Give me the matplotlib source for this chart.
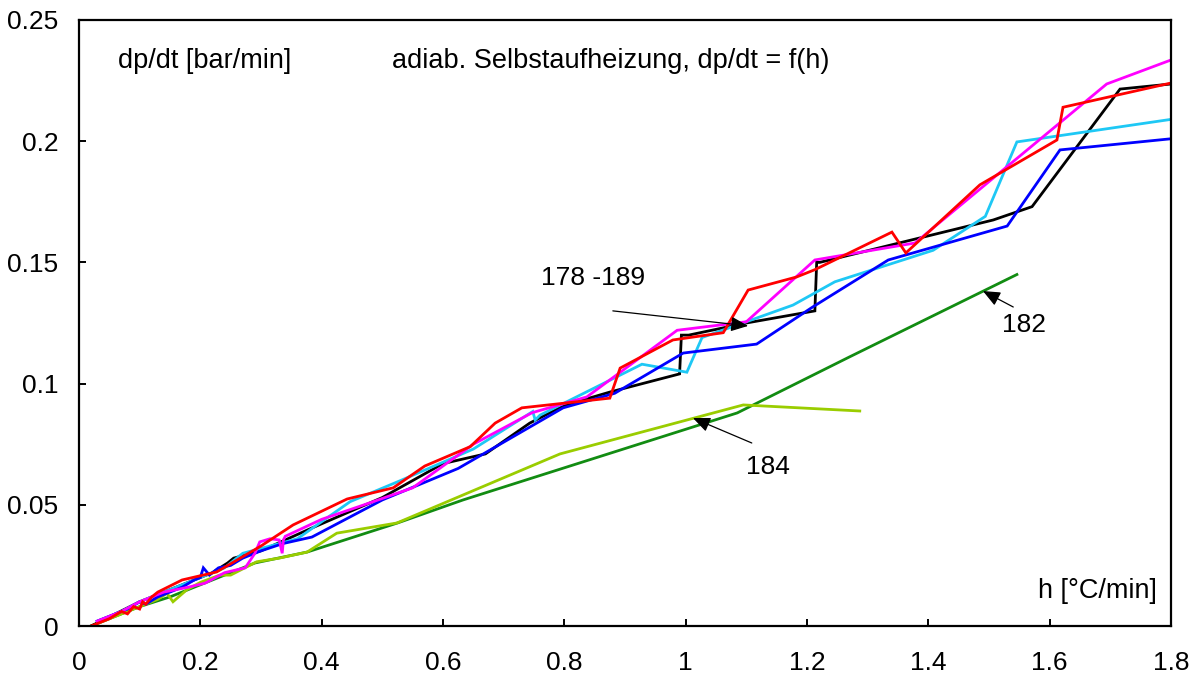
"""Adiabatic self-heating: dp/dt as a function of heating rate h."""

import matplotlib

matplotlib.use("Agg")
import matplotlib.pyplot as plt
from matplotlib.ticker import FormatStrFormatter, MultipleLocator

plt.rcParams["font.family"] = ["Liberation Sans", "DejaVu Sans"]

# Heating rate h [degC/min] and pressure rise dp/dt [bar/min].
dgreen_h = [0.02, 0.06, 0.1, 0.15, 0.2, 0.25, 0.29, 0.376, 0.525, 0.633, 1.085, 1.27, 1.546]
dgreen_v = [0.0, 0.004, 0.008, 0.012, 0.017, 0.022, 0.026, 0.0305, 0.0425, 0.052, 0.0879,
            0.111, 0.145]

ygreen_h = [0.02, 0.06, 0.1, 0.13, 0.145, 0.155, 0.178, 0.2, 0.232, 0.25, 0.293, 0.33,
            0.376, 0.425, 0.524, 0.793, 1.095, 1.287]
ygreen_v = [0.0, 0.004, 0.008, 0.011, 0.0135, 0.010, 0.015, 0.018, 0.021, 0.021, 0.0265,
            0.028, 0.0305, 0.0383, 0.0425, 0.071, 0.0912, 0.0887]

black_h = [0.02, 0.06, 0.1, 0.14, 0.18, 0.22, 0.245, 0.255, 0.3, 0.38, 0.5, 0.6, 0.67,
           0.743, 0.8, 0.875, 0.99, 0.993, 1.005, 1.1, 1.213, 1.216, 1.221, 1.507, 1.571,
           1.716, 1.8]
black_v = [0.0, 0.005, 0.010, 0.014, 0.018, 0.022, 0.026, 0.028, 0.031, 0.040, 0.053,
           0.067, 0.071, 0.0837, 0.091, 0.0965, 0.104, 0.120, 0.120, 0.125, 0.130, 0.150,
           0.150, 0.1675, 0.173, 0.2215, 0.2236]

cyan_h = [0.03, 0.07, 0.1, 0.13, 0.17, 0.2, 0.24, 0.27, 0.3, 0.36, 0.447, 0.53, 0.65,
          0.748, 0.752, 0.76, 0.928, 1.002, 1.027, 1.177, 1.246, 1.408, 1.494, 1.546, 1.8]
cyan_v = [0.002, 0.006, 0.010, 0.013, 0.017, 0.020, 0.024, 0.030, 0.032, 0.036, 0.0513,
          0.060, 0.073, 0.0885, 0.085, 0.087, 0.108, 0.1047, 0.119, 0.1324, 0.142, 0.155,
          0.169, 0.1997, 0.209]

blue_h = [0.03, 0.06, 0.08, 0.1, 0.11, 0.13, 0.15, 0.17, 0.19, 0.2, 0.205, 0.215, 0.23,
          0.25, 0.27, 0.3, 0.336, 0.384, 0.5, 0.625, 0.798, 0.883, 0.996, 1.117, 1.21,
          1.334, 1.53, 1.617, 1.8]
blue_v = [0.002, 0.005, 0.007, 0.010, 0.009, 0.012, 0.014, 0.016, 0.019, 0.020, 0.024,
          0.021, 0.024, 0.025, 0.028, 0.031, 0.034, 0.0367, 0.052, 0.065, 0.090, 0.096,
          0.1126, 0.1163, 0.1317, 0.151, 0.165, 0.1964, 0.201]

magenta_h = [0.03, 0.07, 0.1, 0.14, 0.18, 0.208, 0.24, 0.274, 0.29, 0.298, 0.315, 0.33,
             0.335, 0.337, 0.34, 0.4, 0.47, 0.55, 0.65, 0.747, 0.837, 0.986, 1.10, 1.213,
             1.378, 1.694, 1.8]
magenta_v = [0.002, 0.006, 0.010, 0.014, 0.016, 0.0177, 0.022, 0.024, 0.030, 0.0347,
             0.036, 0.0355, 0.030, 0.0355, 0.037, 0.044, 0.050, 0.057, 0.075, 0.088,
             0.0945, 0.122, 0.1255, 0.151, 0.158, 0.2236, 0.2335]

red_h = [0.02, 0.05, 0.07, 0.08, 0.09, 0.1, 0.105, 0.11, 0.12, 0.13, 0.17, 0.227, 0.3,
         0.353, 0.442, 0.518, 0.57, 0.645, 0.686, 0.73, 0.875, 0.892, 0.979, 1.062, 1.103,
         1.183, 1.213, 1.34, 1.363, 1.485, 1.612, 1.622, 1.8]
red_v = [0.0, 0.003, 0.006, 0.005, 0.008, 0.007, 0.010, 0.009, 0.012, 0.014, 0.019,
         0.0223, 0.033, 0.0417, 0.0524, 0.057, 0.066, 0.074, 0.0837, 0.090, 0.094, 0.1064,
         0.118, 0.121, 0.1386, 0.144, 0.147, 0.1625, 0.1539, 0.182, 0.2005, 0.214, 0.224]

series = [
    (dgreen_h, dgreen_v, "#128c12"),
    (ygreen_h, ygreen_v, "#9acd00"),
    (black_h, black_v, "#000000"),
    (cyan_h, cyan_v, "#1ec8f5"),
    (blue_h, blue_v, "#0000ff"),
    (magenta_h, magenta_v, "#ff00ff"),
    (red_h, red_v, "#ff0000"),
]

fig = plt.figure(figsize=(12.02, 6.8), dpi=100)
ax = fig.add_axes([0.0657, 0.0794, 0.9085, 0.8912])

for h, v, color in series:
    ax.plot(h, v, color=color, lw=2.0, solid_joinstyle="miter")

ax.set_xlim(0, 1.8)
ax.set_ylim(0, 0.25)
ax.xaxis.set_major_locator(MultipleLocator(0.2))
ax.yaxis.set_major_locator(MultipleLocator(0.05))
ax.xaxis.set_major_formatter(FormatStrFormatter("%g"))
ax.yaxis.set_major_formatter(FormatStrFormatter("%g"))
ax.tick_params(axis="both", direction="in", length=5, width=1.4, labelsize=19)
ax.tick_params(axis="x", pad=18)
ax.tick_params(axis="y", pad=15)
for spine in ax.spines.values():
    spine.set_linewidth(1.6)

ax.text(0.064, 0.2331, "dp/dt [bar/min]", fontsize=19.5, va="center", ha="left")
ax.text(0.516, 0.2331, "adiab. Selbstaufheizung, dp/dt = f(h)", fontsize=19.5,
        va="center", ha="left")
ax.text(1.777, 0.0144, "h [°C/min]", fontsize=19.5, va="center", ha="right")

arrow = dict(arrowstyle="-|>,head_length=0.7,head_width=0.3", color="black",
             lw=0.9, mutation_scale=15, shrinkA=0, shrinkB=0)

ax.text(0.847, 0.1436, "178 -189", fontsize=19, va="center", ha="center")
ax.annotate("", xy=(1.103, 0.1238), xytext=(0.88, 0.130), arrowprops=arrow)

ax.text(1.136, 0.0656, "184", fontsize=19, va="center", ha="center")
ax.annotate("", xy=(1.012, 0.0858), xytext=(1.109, 0.0755), arrowprops=arrow)

ax.text(1.558, 0.1242, "182", fontsize=19, va="center", ha="center")
ax.annotate("", xy=(1.490, 0.1382), xytext=(1.540, 0.1316), arrowprops=arrow)

fig.savefig("out.png", dpi=100)
